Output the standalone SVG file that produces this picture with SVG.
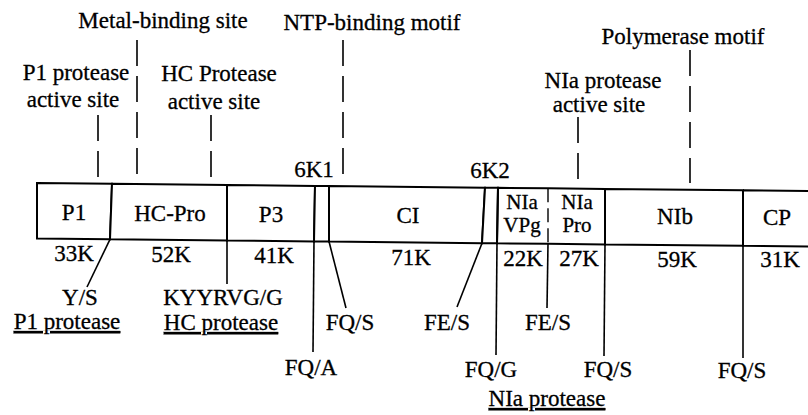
<svg xmlns="http://www.w3.org/2000/svg" width="808" height="415" viewBox="0 0 808 415">
  <style>
    text { font-family: "Liberation Serif", "Times New Roman", serif; font-size: 23px; fill: #000; stroke: #000; stroke-width: 0.3; text-anchor: middle; }
    .u { text-decoration: underline; }
    .sm { font-size: 21px; }
    .cell { fill: #fff; stroke: #000; stroke-width: 2; }
    .edge { fill: none; stroke: #000; stroke-width: 2; }
    .cut { fill: none; stroke: #000; stroke-width: 1.6; }
    .motif { fill: none; stroke: #000; stroke-width: 1.6; stroke-dasharray: 26 10; }
    .split { fill: none; stroke: #000; stroke-width: 1.4; stroke-dasharray: 14 6; }
  </style>
  <rect width="808" height="415" fill="#fff"/>

  <!-- functional motif labels above the polyprotein -->
  <g id="motif-labels">
    <text x="163" y="28">Metal-binding site</text>
    <text x="372" y="30">NTP-binding motif</text>
    <text x="683" y="44">Polymerase motif</text>
    <text x="76" y="80">P1 protease</text>
    <text x="73" y="107">active site</text>
    <text x="219" y="81">HC Protease</text>
    <text x="214" y="109">active site</text>
    <text x="603" y="88">NIa protease</text>
    <text x="599" y="112">active site</text>
  </g>

  <!-- polyprotein segments -->
  <g id="P1">
    <polygon class="cell" points="37,183 112,183.8 110,239.3 37,238.5"/>
    <text x="74" y="220">P1</text>
    <text x="74" y="261">33K</text>
  </g>
  <g id="HC-Pro">
    <polygon class="cell" points="112,183.8 227,185 227,240.5 110,239.3"/>
    <text x="170" y="221">HC-Pro</text>
    <text x="171" y="262">52K</text>
  </g>
  <g id="P3">
    <polygon class="cell" points="227,185 315,185.9 314,241.4 227,240.5"/>
    <text x="271" y="222">P3</text>
    <text x="274" y="263">41K</text>
  </g>
  <g id="6K1">
    <polygon class="cell" points="315,185.9 329,186 329,241.5 314,241.4"/>
    <text x="314" y="177">6K1</text>
  </g>
  <g id="CI">
    <polygon class="cell" points="329,186 485,187.7 482,243.2 329,241.5"/>
    <text x="408" y="223">CI</text>
    <text x="411" y="265">71K</text>
  </g>
  <g id="6K2">
    <polygon class="cell" points="485,187.7 498,187.8 497,243.3 482,243.2"/>
    <text x="490" y="178">6K2</text>
  </g>
  <g id="NIa-VPg">
    <path class="edge" d="M548,188.3 L498,187.8 L497,243.3 L548,243.8"/>
    <text class="sm" x="522" y="209">NIa</text>
    <text class="sm" x="522" y="232">VPg</text>
    <text x="523" y="266">22K</text>
  </g>
  <g id="NIa-Pro">
    <path class="edge" d="M548,188.3 L605,188.9 L605,244.4 L548,243.8"/>
    <text class="sm" x="577" y="209">NIa</text>
    <text class="sm" x="577" y="232">Pro</text>
    <text x="579" y="266">27K</text>
  </g>
  <g id="NIb">
    <polygon class="cell" points="605,188.9 743,190.3 743,245.8 605,244.4"/>
    <text x="675" y="224">NIb</text>
    <text x="677" y="267">59K</text>
  </g>
  <g id="CP">
    <path class="edge" d="M743,190.3 L812,191 M812,246.5 L743,245.8 L743,190.3"/>
    <text x="777" y="225">CP</text>
    <text x="780" y="267">31K</text>
  </g>

  <!-- leaders from motifs, and cleavage-site lines -->
  <g id="connectors">
    <line class="split" x1="548" y1="188.3" x2="548" y2="243.8"/>

    <line class="motif" x1="137" y1="40" x2="137" y2="178"/>
    <line class="motif" x1="98" y1="115" x2="98" y2="178"/>
    <line class="motif" x1="211" y1="115" x2="211" y2="178"/>
    <line class="motif" x1="343" y1="40" x2="343" y2="180"/>
    <line class="motif" x1="578" y1="117" x2="578" y2="182"/>
    <line class="motif" x1="690" y1="50" x2="690" y2="183"/>

    <line class="cut" x1="110" y1="239.3" x2="87" y2="287"/>
    <line class="cut" x1="227" y1="240.5" x2="227" y2="284"/>
    <line class="cut" x1="314" y1="241.4" x2="313" y2="352"/>
    <line class="cut" x1="329" y1="241.5" x2="346" y2="308"/>
    <line class="cut" x1="482" y1="243.2" x2="457" y2="307"/>
    <line class="cut" x1="497" y1="243.3" x2="496" y2="355"/>
    <line class="cut" x1="548" y1="243.8" x2="547" y2="308"/>
    <line class="cut" x1="605" y1="244.4" x2="604" y2="356"/>
    <line class="cut" x1="743" y1="245.8" x2="743" y2="358"/>
  </g>

  <!-- cleavage sequences and the proteases that cut them -->
  <g id="cleavage-labels">
    <text x="80" y="305">Y/S</text>
    <text class="u" x="67" y="329">P1 protease</text>
    <text x="223" y="305">KYYRVG/G</text>
    <text class="u" x="221" y="330">HC protease</text>
    <text x="350" y="330">FQ/S</text>
    <text x="447" y="330">FE/S</text>
    <text x="548" y="330">FE/S</text>
    <text x="311" y="375">FQ/A</text>
    <text x="491" y="377">FQ/G</text>
    <text x="608" y="377">FQ/S</text>
    <text x="742" y="378">FQ/S</text>
    <text class="u" x="547" y="406">NIa protease</text>
  </g>
</svg>
